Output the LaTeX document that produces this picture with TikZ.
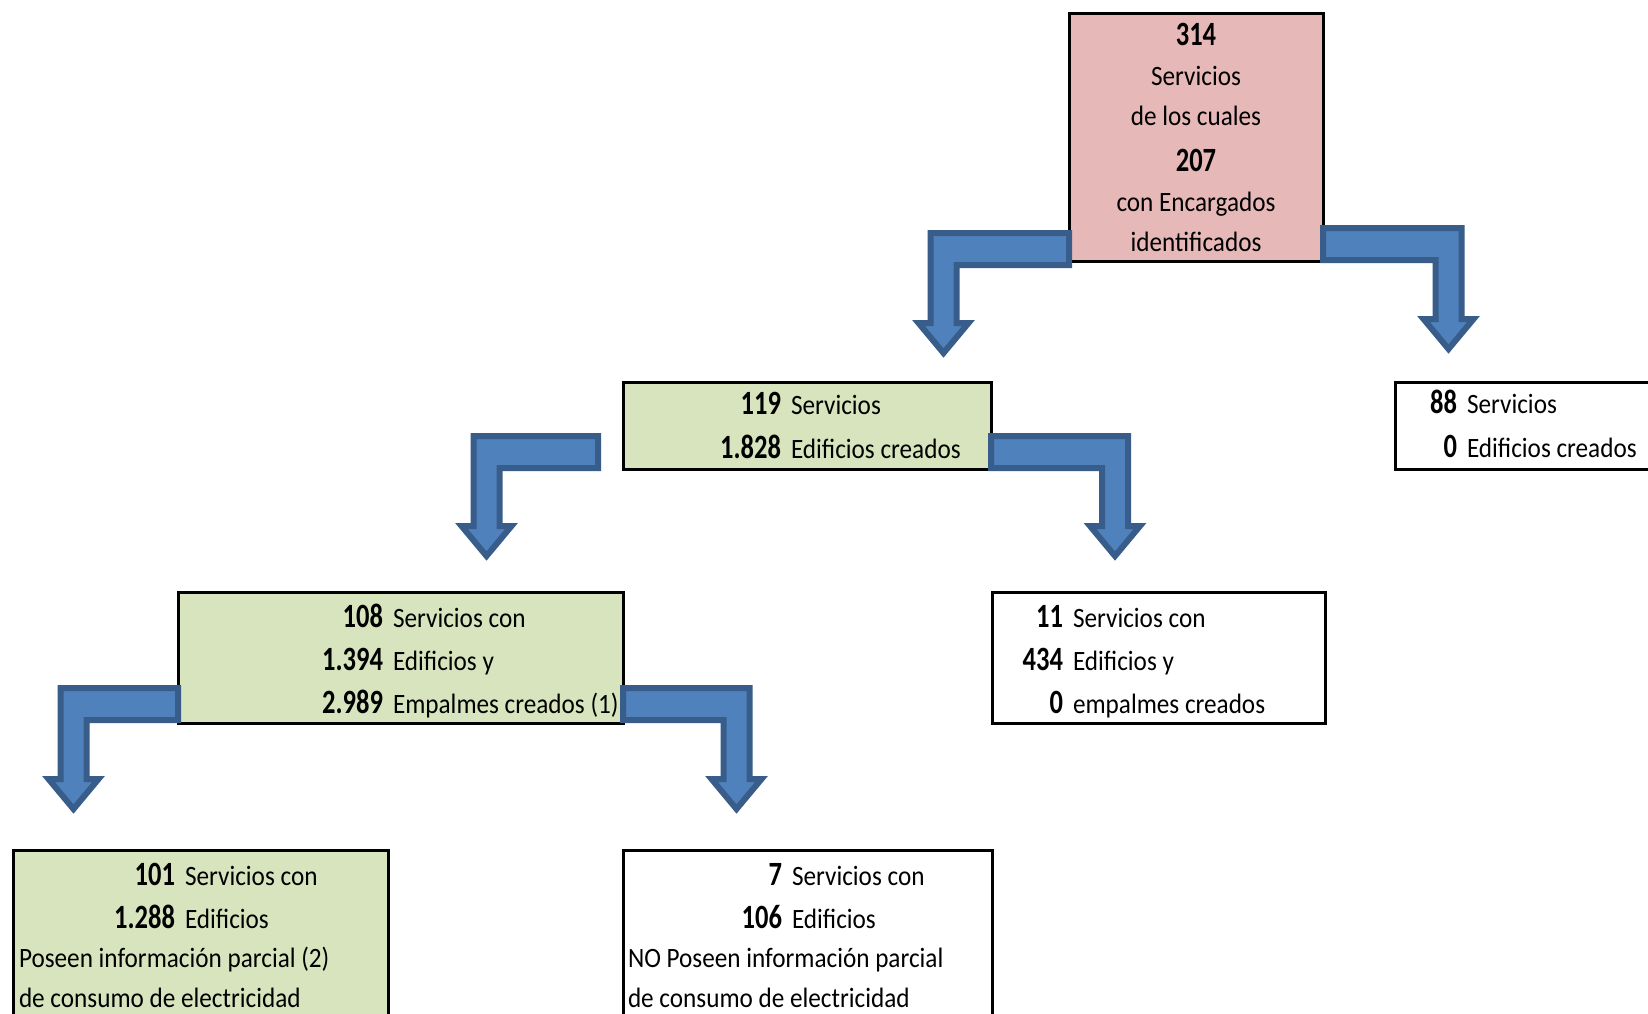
\documentclass[tikz,border=0pt]{standalone}
\usepackage{fontspec}
\setmainfont{Carlito}[FakeStretch=0.9]
\newfontfamily\numfont{Carlito}[FakeStretch=0.78]
\usetikzlibrary{calc}
\definecolor{boxpink}{HTML}{E6B9B8}
\definecolor{boxgreen}{HTML}{D7E4BD}
\definecolor{arrowfill}{HTML}{4F81BD}
\definecolor{arrowline}{HTML}{385D8A}
\newcommand\nb[1]{{\numfont\bfseries\fontsize{34}{40}\selectfont #1}}
\newcommand\numlab[2]{\llap{\nb{#1}\hspace{10pt}}#2}
\newcommand\bentarrow[2]{%
  \path[bent] let \p1=#1, \p2=(#2), \n1={sign(\x2-\x1)} in
    (\x1,{\y1+16pt}) -- ({\x2+\n1*13pt},{\y1+16pt}) -- ({\x2+\n1*13pt},{\y2+30pt})
    -- ({\x2+\n1*25pt},{\y2+30pt}) -- (\x2,\y2) -- ({\x2-\n1*25pt},{\y2+30pt})
    -- ({\x2-\n1*13pt},{\y2+30pt}) -- ({\x2-\n1*13pt},{\y1-16pt}) -- (\x1,{\y1-16pt}) -- cycle;}
\begin{document}
\begin{tikzpicture}
[x=1pt,y=-1pt,
 box/.style={draw=black,line width=3pt,anchor=north west,inner sep=0pt,outer sep=0pt},
 txt/.style={inner sep=0pt,outer sep=0pt,anchor=base west,font=\fontsize{28}{#1}\selectfont},
 txt/.default=44,
 bent/.style={fill=arrowfill,draw=arrowline,line width=6pt,line join=miter}]
\useasboundingbox[fill=white] (0,0) rectangle (1648,1013);
\node[box,fill=boxpink, minimum width=254pt,minimum height=248pt] (root) at (1069,13)  {};
\node[box,fill=boxgreen,minimum width=368pt,minimum height=87pt]  (b119) at (623,382)  {};
\node[box,fill=white,   minimum width=265pt,minimum height=87pt]  (b88)  at (1395,382) {};
\node[box,fill=boxgreen,minimum width=445pt,minimum height=131pt] (b108) at (178,592)  {};
\node[box,fill=white,   minimum width=333pt,minimum height=131pt] (b11)  at (992,592)  {};
\node[box,fill=boxgreen,minimum width=375pt,minimum height=180pt] (b101) at (13,850)   {};
\node[box,fill=white,   minimum width=369pt,minimum height=180pt] (b7)   at (623,850)  {};
\coordinate (tipA) at (943.5,353);
\coordinate (tipB) at (1448.5,349);
\coordinate (tipC) at (486.5,556);
\coordinate (tipF) at (1115,556);
\coordinate (tipD) at (73.5,809);
\coordinate (tipE) at (736.5,809);
\bentarrow{($(root.south west)+(0,-12)$)}{tipA}
\bentarrow{($(root.south east)+(0,-17)$)}{tipB}
\bentarrow{($(b119.south west)+(-25,-17)$)}{tipC}
\bentarrow{($(b119.south east)+(0,-17)$)}{tipF}
\bentarrow{($(b108.south west)+(0,-19)$)}{tipD}
\bentarrow{($(b108.south east)+(0,-19)$)}{tipE}
\node[txt=40,anchor=base] (troot) at (1196,45)
  {\begin{tabular}[t]{@{}c@{}}\nb{314}\\Servicios\\de los cuales\\[6pt]\nb{207}\\con Encargados\\identificados\end{tabular}};
\node[txt] (t119) at (791,414)
  {\begin{tabular}[t]{@{}l@{}}\numlab{119}{Servicios}\\\numlab{1.828}{Edificios creados}\end{tabular}};
\node[txt] (t88) at (1467,413)
  {\begin{tabular}[t]{@{}l@{}}\numlab{88}{Servicios}\\\numlab{0}{Edificios creados}\end{tabular}};
\node[txt=43] (t108) at (393,627)
  {\begin{tabular}[t]{@{}l@{}}\numlab{108}{Servicios con}\\\numlab{1.394}{Edificios y}\\\numlab{2.989}{Empalmes creados (1)}\end{tabular}};
\node[txt=43] (t11) at (1073,627)
  {\begin{tabular}[t]{@{}l@{}}\numlab{11}{Servicios con}\\\numlab{434}{Edificios y}\\\numlab{0}{empalmes creados}\end{tabular}};
\node[txt=43] (t101) at (185,885)
  {\begin{tabular}[t]{@{}l@{}}\numlab{101}{Servicios con}\\\numlab{1.288}{Edificios}\end{tabular}};
\node[txt=40] (t101b) at (19,967)
  {\begin{tabular}[t]{@{}l@{}}Poseen información parcial (2)\\de consumo de electricidad\end{tabular}};
\node[txt=43] (t7) at (792,885)
  {\begin{tabular}[t]{@{}l@{}}\numlab{7}{Servicios con}\\\numlab{106}{Edificios}\end{tabular}};
\node[txt=40] (t7b) at (628,967)
  {\begin{tabular}[t]{@{}l@{}}NO Poseen información parcial\\de consumo de electricidad\end{tabular}};
\end{tikzpicture}
\end{document}
